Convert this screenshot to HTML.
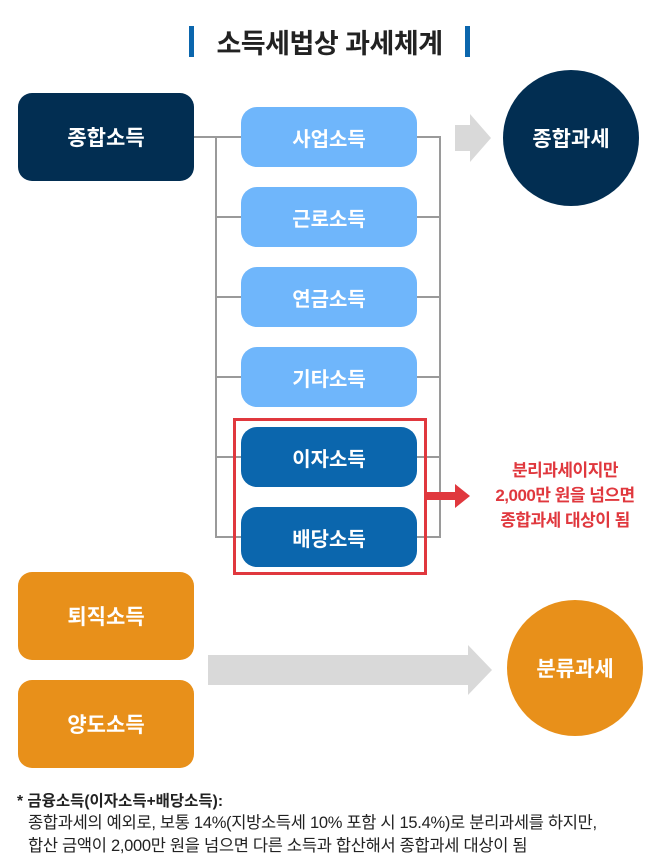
<!DOCTYPE html>
<html><head><meta charset="utf-8"><style>
body{margin:0;width:658px;height:864px;background:#fff;position:relative;overflow:hidden;font-family:"Liberation Sans","Noto Sans CJK KR",sans-serif}
.a{position:absolute;box-sizing:border-box;display:flex;align-items:center;justify-content:center;color:#fff;font-weight:bold;font-size:21px}
.big{border-radius:14px;width:176px;height:88px;left:18px}
.pill{left:241px;width:176px;height:60px;border-radius:16px;font-size:20px}
.l{background:#6fb6fb}.d{background:#0b66ad}
.ln{position:absolute;background:#9a9a9a}
.c{border-radius:50%;width:136px;height:136px;font-size:21px}
.t{position:absolute;white-space:nowrap}
</style></head><body>
<div class="ln" style="left:189px;top:26px;width:5px;height:31px;background:#0b66ad"></div>
<div class="ln" style="left:465px;top:26px;width:5px;height:31px;background:#0b66ad"></div>
<div class="t" style="left:194px;width:271px;top:22px;text-align:center;font-size:27px;font-weight:bold;color:#222;letter-spacing:-0.5px">소득세법상 과세체계</div>

<div class="ln" style="left:194px;top:136px;width:247px;height:2px"></div>
<div class="ln" style="left:215px;top:136px;width:2px;height:402px"></div>
<div class="ln" style="left:439px;top:136px;width:2px;height:402px"></div>
<div class="ln" style="left:215px;top:216px;width:226px;height:2px"></div>
<div class="ln" style="left:215px;top:296px;width:226px;height:2px"></div>
<div class="ln" style="left:215px;top:376px;width:226px;height:2px"></div>
<div class="ln" style="left:215px;top:456px;width:226px;height:2px"></div>
<div class="ln" style="left:215px;top:536px;width:226px;height:2px"></div>

<div class="a big" style="top:93px;background:#022e52">종합소득</div>
<div class="a pill l" style="top:107px">사업소득</div>
<div class="a pill l" style="top:187px">근로소득</div>
<div class="a pill l" style="top:267px">연금소득</div>
<div class="a pill l" style="top:347px">기타소득</div>
<div style="position:absolute;left:233px;top:418px;width:194px;height:157px;border:3px solid #e0383e;box-sizing:border-box"></div>
<div class="a pill d" style="top:427px">이자소득</div>
<div class="a pill d" style="top:507px">배당소득</div>

<svg style="position:absolute;left:0;top:0" width="658" height="864">
<polygon points="455,125 470,125 470,114 491,138 470,162 470,151 455,151" fill="#d9d9d9"/>
<polygon points="427,492 455,492 455,484 470,496 455,508 455,500 427,500" fill="#e0383e"/>
<polygon points="208,655 468,655 468,645 492,670 468,695 468,685 208,685" fill="#d9d9d9"/>
</svg>
<div class="a c" style="left:503px;top:70px;background:#022e52">종합과세</div>
<div class="t" style="left:470px;width:190px;text-align:center;top:458px;color:#e0383e;font-weight:bold;font-size:17px;line-height:25px;letter-spacing:-0.5px">분리과세이지만<br>2,000만 원을 넘으면<br>종합과세 대상이 됨</div>

<div class="a big" style="top:572px;background:#e8901a">퇴직소득</div>
<div class="a big" style="top:680px;background:#e8901a">양도소득</div>
<div class="a c" style="left:507px;top:600px;background:#e8901a">분류과세</div>

<div class="t" style="left:17px;top:789px;font-size:15.5px;font-weight:bold;color:#222">* 금융소득(이자소득+배당소득):</div>
<div class="t" style="left:28px;top:812px;font-size:16.5px;color:#222;line-height:23px;letter-spacing:-0.3px">종합과세의 예외로, 보통 14%(지방소득세 10% 포함 시 15.4%)로 분리과세를 하지만,<br>합산 금액이 2,000만 원을 넘으면 다른 소득과 합산해서 종합과세 대상이 됨</div>
</body></html>
